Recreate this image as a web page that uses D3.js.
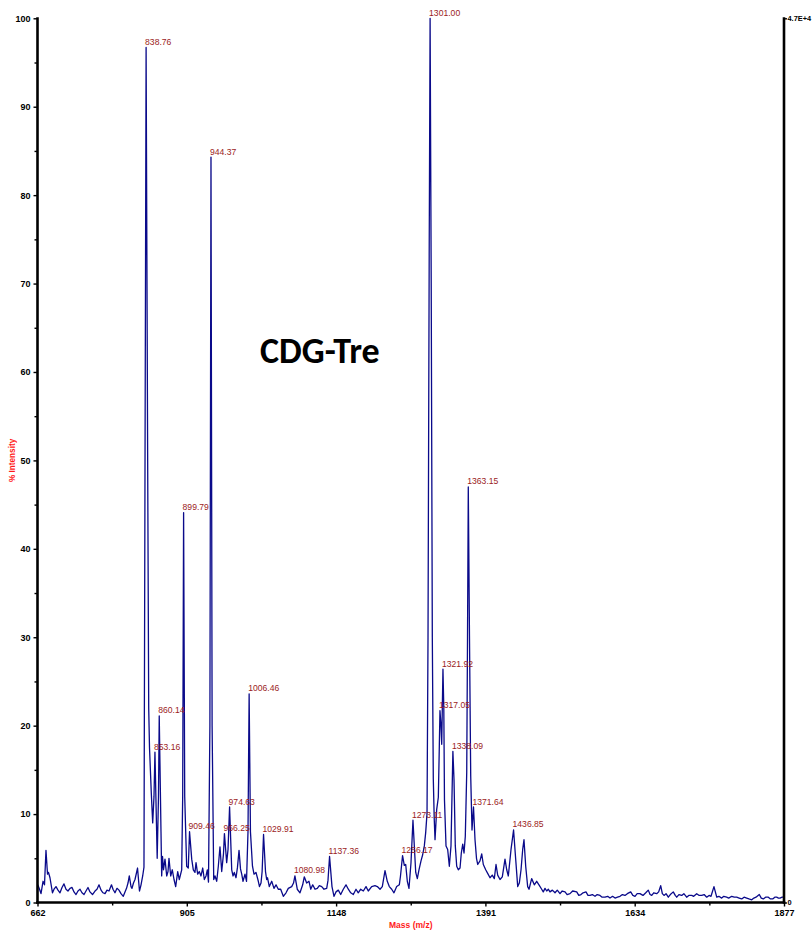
<!DOCTYPE html>
<html>
<head>
<meta charset="utf-8">
<script src="https://cdn.jsdelivr.net/npm/d3@7"></script>
<style>
  html, body { margin: 0; padding: 0; background: #ffffff; }
  svg { display: block; }
</style>
</head>
<body>
<svg id="chart" width="812" height="935"></svg>
<script>
// MALDI profile spectrum, [m/z, % intensity], split by mass region
const profileLow = [
  [662.5,2.0],[665.3,1.5],[667.7,1.0],[671.0,2.4],[673.4,2.0],[675.8,5.9],[678.3,3.2],[679.9,3.4],
  [682.3,2.8],[686.4,1.1],[688.9,1.5],[692.1,1.8],[695.4,1.4],[698.6,1.1],[701.9,1.7],[705.1,2.1],
  [708.4,1.5],[711.6,1.3],[714.9,1.6],[718.2,1.7],[721.4,1.2],[724.7,0.9],[727.9,1.3],[731.2,1.5],
  [734.4,1.1],[737.7,0.9],[740.9,1.3],[744.2,1.7],[747.4,1.2],[751.5,0.9],[755.6,1.3],[758.8,1.5],
  [762.1,2.0],[765.4,1.4],[768.6,1.1],[771.9,1.0],[775.1,1.4],[778.4,1.3],[782.4,2.0],[784.9,1.5],
  [788.1,1.1],[791.4,1.6],[794.6,1.4],[797.9,1.0],[801.6,0.7],[804.4,1.2],[806.9,1.6],[809.3,2.2],
  [811.4,3.0],[814.2,1.8],[815.8,1.6],[818.2,2.2],[820.7,2.6],[824.8,3.9],[828.0,1.3],[830.5,2.0],
  [833.2,3.0]
];
const profileCluster1 = [
  [835.3,4.0],[838.76,96.7],[841.3,50],[843.0,22],[844.3,17.5],[847.2,12.4],[849.5,9.0],[851.6,12],
  [853.16,17.0],[856.8,5.0],[858.9,12],[860.14,21.1],[863.0,8],[864.1,3.0],[865.5,5.2],[867.1,3.7],
  [869.5,4.9],[872.3,3.0],[874.4,3.5],[876.0,5.0],[878.8,3.0],[881.4,3.7],[884.2,2.6],[886.9,1.8],
  [890.2,3.5],[892.8,2.6],[896.7,3.7],[898.3,12],[899.79,44.1],[901.6,12],[904.8,4.1],[907.4,3.9],
  [909.46,8.0],[913.0,4.9],[915.6,3.7],[918.3,3.4],[920.0,4.5],[922.7,3.2],[925.3,3.5],[928.1,3.0],
  [930.9,3.9],[933.5,2.6],[936.3,3.0],[938.4,3.7],[940.3,2.3],[942.6,20],[944.37,84.3],[946.2,20],
  [948.8,2.6],[950.9,3.0],[953.7,2.4],[956.3,4.1],[959.0,6.3],[961.8,3.5],[964.7,5.5],[966.25,7.8],
  [969.9,4.5],[972.1,6.0],[974.63,10.8],[978.1,3.7],[980.2,3.0],[982.3,3.4],[985.1,2.8],[987.5,4.0],
  [990.0,5.9],[992.4,3.8],[994.4,3.2],[996.5,2.4],[999.7,3.2],[1002.2,2.4],[1004.6,8],[1006.46,23.6],
  [1008.6,8],[1011.9,4.1],[1014.4,3.2],[1017.6,3.4],[1021.4,2.4],[1023.3,1.8],[1025.8,2.2],[1027.6,3.5],
  [1029.91,7.7],[1033.1,3.5],[1035.0,2.6],[1036.3,2.8],[1039.3,1.8]
];
const profileMid = [
  [1043.2,2.4],[1046.9,1.6],[1050.2,2.0],[1053.9,1.5],[1057.8,1.5],[1062.1,0.7],[1066.5,1.1],[1070.2,1.6],
  [1075.7,1.8],[1078.7,2.2],[1080.98,3.0],[1084.8,1.5],[1089.2,1.1],[1093.6,2.0],[1096.2,2.9],[1100.1,2.2],
  [1103.9,2.4],[1106.7,1.5],[1109.9,2.0],[1113.7,1.5],[1117.4,1.6],[1120.7,1.9],[1124.6,1.8],[1128.3,1.5],
  [1132.7,1.6],[1134.8,2.5],[1137.36,5.2],[1141.3,1.8],[1144.6,0.7],[1147.8,1.2],[1151.6,1.4],[1155.5,0.9],
  [1159.7,1.5],[1164.1,2.0],[1167.9,1.5],[1171.8,1.1],[1176.0,0.9],[1180.4,1.5],[1184.1,1.1],[1188.0,1.5],
  [1192.3,1.3],[1196.7,1.8],[1200.4,1.3],[1205.9,1.8],[1211.3,1.9],[1215.1,1.8],[1219.5,1.5],[1223.2,1.8],
  [1227.6,3.6],[1231.3,2.4],[1234.6,1.8],[1238.5,1.5],[1242.2,1.1],[1246.6,1.8],[1250.9,2.0]
];
const profileCluster2 = [
  [1252.8,3.0],[1256.17,5.3],[1259.0,4.2],[1261.3,4.3],[1263.9,2.4],[1266.6,1.6],[1269.9,4.5],[1273.11,9.3],
  [1275.3,6.4],[1277.6,3.4],[1280.2,2.7],[1282.9,3.7],[1286.2,4.7],[1288.9,5.4],[1291.6,6.4],[1293.8,7.9],
  [1296.0,10.1],[1297.6,30],[1299.6,75],[1301.00,100],[1302.8,70],[1304.6,30],[1306.2,14],[1307.7,9.5],
  [1309.0,7.1],[1311.7,10.5],[1314.4,11.9],[1316.0,17.7],[1317.05,21.7],[1318.7,20],[1319.9,17.9],[1321.92,26.4],
  [1323.3,22],[1324.4,11.6],[1326.9,6.4],[1329.6,6.0],[1332.3,4.1],[1335.0,6.4],[1338.09,17.1],[1339.9,13.9],
  [1342.0,6.4],[1344.3,4.1],[1346.9,3.7],[1349.7,3.9],[1351.8,5.6],[1354.1,6.6],[1356.2,5.6],[1358.3,7.5],
  [1360.6,14.7],[1361.9,30],[1363.15,47.0],[1365.1,30],[1367.1,14.3],[1369.2,8.2],[1371.64,10.8],[1374.1,7.1],
  [1376.5,5.0],[1378.5,4.3],[1382.2,4.7],[1385.0,5.5],[1387.6,4.3],[1391.5,3.7],[1394.7,3.3],[1398.5,2.8],
  [1402.2,3.1],[1405.5,2.7],[1408.3,4.3],[1411.0,3.1],[1414.8,2.6],[1418.5,2.9],[1422.9,4.9],[1425.7,3.7],
  [1428.3,3.0],[1432.7,6.0],[1436.85,8.2],[1440.3,4.9],[1443.6,1.8],[1446.2,2.2],[1449.0,3.7],[1451.7,6.0],
  [1453.8,7.1],[1456.6,4.1],[1459.8,1.8]
];
const profileHigh = [
  [1462.0,1.5],[1466.3,2.7],[1470.6,2.0],[1474.5,2.4],[1478.2,2.0],[1482.6,1.5],[1485.2,1.2],[1488.0,1.6],
  [1490.8,1.3],[1493.5,1.5],[1496.1,1.2],[1500.0,1.4],[1504.3,1.1],[1508.0,1.4],[1512.4,1.0],[1516.0,1.3],
  [1520.6,1.2],[1524.0,0.9],[1528.7,1.0],[1533.0,1.3],[1539.6,1.2],[1543.0,0.8],[1546.6,0.9],[1550.0,1.1],
  [1554.7,1.2],[1558.0,0.8],[1561.2,0.8],[1565.0,0.9],[1569.4,0.7],[1573.0,0.9],[1577.5,0.8],[1581.0,0.6],
  [1585.7,0.6],[1590.0,0.7],[1593.8,0.5],[1598.0,0.7],[1602.0,0.5],[1606.0,0.6],[1610.1,0.7],[1614.0,0.9],
  [1618.2,0.8],[1622.0,1.0],[1627.5,1.2],[1631.0,0.8],[1634.5,0.7],[1638.0,1.0],[1642.6,1.0],[1647.5,0.8],
  [1652.0,1.1],[1656.1,1.4],[1659.0,0.9],[1661.7,0.8],[1665.0,1.1],[1669.8,1.0],[1673.0,1.2],[1676.3,1.9],
  [1679.0,1.0],[1681.7,0.8],[1685.0,1.0],[1688.7,0.6],[1692.0,0.9],[1696.8,1.2],[1700.0,0.8],[1702.4,0.6],
  [1706.0,0.9],[1710.5,0.8],[1714.0,1.0],[1718.6,0.6],[1722.0,0.8],[1726.8,0.8],[1730.0,0.7],[1734.9,1.0],
  [1739.0,0.8],[1743.1,0.8],[1747.0,0.9],[1751.2,0.6],[1755.0,0.8],[1758.2,0.7],[1763.0,1.8],[1767.5,0.6],
  [1771.0,0.7],[1775.6,0.5],[1779.0,0.7],[1783.7,0.6],[1787.0,0.5],[1791.9,0.7],[1796.0,0.6],[1800.0,0.6],
  [1804.0,0.5],[1808.2,0.4],[1812.0,0.6],[1816.3,0.5],[1820.0,0.4],[1824.5,0.3],[1828.0,0.5],[1831.4,0.6],
  [1836.8,0.9],[1840.0,0.5],[1843.3,0.4],[1847.0,0.6],[1851.5,0.6],[1855.0,0.4],[1858.6,0.4],[1862.0,0.6],
  [1865.1,0.6],[1868.0,0.5],[1870.5,0.5],[1874.0,0.6],[1877.0,0.6]
];

// annotated peak masses
const peakLabels = [838.76, 853.16, 860.14, 899.79, 909.46, 944.37, 966.25, 974.63, 1006.46, 1029.91,
  1080.98, 1137.36, 1256.17, 1273.11, 1301.00, 1317.05, 1321.92, 1338.09, 1363.15, 1371.64, 1436.85];

const massTicks = [662, 905, 1148, 1391, 1634, 1877];
const intensityTicks = [0, 10, 20, 30, 40, 50, 60, 70, 80, 90, 100];
const countTicks = [0, 47000];
const countTickLabels = ["0", "4.7E+4"];
const sampleName = "CDG-Tre";
const xTitle = "Mass (m/z)";
const yTitle = "% Intensity";

(function drawSpectrum() {
  const spectrum = [].concat(profileLow, profileCluster1, profileMid, profileCluster2, profileHigh);

  const svg = d3.select("#chart");
  const plotLeft = 37.5, plotRight = 784, plotTop = 18.3, plotBottom = 902.5;

  const x = d3.scaleLinear().domain([662, 1877]).range([plotLeft, plotRight]);
  const y = d3.scaleLinear().domain([0, 100]).range([plotBottom, plotTop]);
  const yCounts = d3.scaleLinear().domain([0, 47000]).range([plotBottom, plotTop]);

  const tickFont = "'Liberation Sans', Arial, sans-serif";

  // spectrum trace
  svg.append("path")
    .datum(spectrum)
    .attr("fill", "none")
    .attr("stroke", "#0a0a8a")
    .attr("stroke-width", 1.3)
    .attr("stroke-linejoin", "round")
    .attr("d", d3.line().x(d => x(d[0])).y(d => y(d[1])));

  // peak annotations
  const peakLookup = new Map(spectrum.map(d => [d[0], d[1]]));
  svg.append("g")
    .selectAll("text")
    .data(peakLabels)
    .join("text")
    .attr("x", d => x(d) - 1)
    .attr("y", d => y(peakLookup.get(d)) - 2.5)
    .attr("font-family", tickFont)
    .attr("font-size", 8.6)
    .attr("fill", "#9b1c1c")
    .text(d => d.toFixed(2));

  // minor tick values at the half steps
  const massMinor = d3.range(0, massTicks.length - 1).map(i => (massTicks[i] + massTicks[i + 1]) / 2);
  const intensityMinor = d3.range(5, 100, 10);

  function styleAxis(g) {
    g.selectAll(".tick line").attr("stroke", "#000").attr("stroke-width", 1.4);
    g.selectAll("text")
      .attr("font-family", tickFont)
      .attr("font-size", 9)
      .attr("font-weight", "bold")
      .attr("fill", "#000");
    g.select(".domain").remove();
  }

  // bottom axis
  svg.append("g").attr("transform", `translate(0,${plotBottom})`)
    .call(d3.axisBottom(x).tickValues(massTicks).tickFormat(d3.format("d")).tickSize(4).tickPadding(3).tickSizeOuter(0))
    .call(styleAxis);
  svg.append("g").attr("transform", `translate(0,${plotBottom})`)
    .call(d3.axisBottom(x).tickValues(massMinor).tickFormat("").tickSize(3).tickSizeOuter(0))
    .call(styleAxis);

  // left axis
  svg.append("g").attr("transform", `translate(${plotLeft},0)`)
    .call(d3.axisLeft(y).tickValues(intensityTicks).tickFormat(d3.format("d")).tickSize(4).tickPadding(3).tickSizeOuter(0))
    .call(styleAxis);
  svg.append("g").attr("transform", `translate(${plotLeft},0)`)
    .call(d3.axisLeft(y).tickValues(intensityMinor).tickFormat("").tickSize(3).tickSizeOuter(0))
    .call(styleAxis);

  // right axis: absolute counts
  svg.append("g").attr("transform", `translate(${plotRight},0)`)
    .call(d3.axisRight(yCounts).tickValues(countTicks).tickFormat((d, i) => countTickLabels[i]).tickSize(3).tickPadding(0.5).tickSizeOuter(0))
    .call(styleAxis)
    .selectAll("text").attr("font-size", 7.4);

  // frame lines
  const frame = svg.append("g").attr("stroke", "#000").attr("stroke-width", 2.6).attr("fill", "none");
  frame.append("line").attr("x1", plotLeft).attr("x2", plotLeft).attr("y1", plotTop - 1).attr("y2", plotBottom + 1.3);
  frame.append("line").attr("x1", plotLeft - 1.3).attr("x2", plotRight + 1.3).attr("y1", plotBottom).attr("y2", plotBottom);
  frame.append("line").attr("x1", plotRight).attr("x2", plotRight).attr("y1", plotTop - 1).attr("y2", plotBottom + 1.3);

  // axis titles
  svg.append("text")
    .attr("x", (plotLeft + plotRight) / 2).attr("y", 928)
    .attr("text-anchor", "middle")
    .attr("font-family", tickFont).attr("font-size", 8.5).attr("font-weight", "bold")
    .attr("fill", "#ff1a1a")
    .text(xTitle);
  svg.append("text")
    .attr("transform", `translate(15,${(plotTop + plotBottom) / 2}) rotate(-90)`)
    .attr("text-anchor", "middle")
    .attr("font-family", tickFont).attr("font-size", 8.2).attr("font-weight", "bold")
    .attr("fill", "#ff1a1a")
    .text(yTitle);

  // sample name
  svg.append("text")
    .attr("x", 260).attr("y", 363)
    .attr("font-family", "Carlito, Calibri, 'Open Sans', 'Liberation Sans', sans-serif")
    .attr("font-size", 36).attr("font-weight", "bold")
    .attr("fill", "#000")
    .text(sampleName);
})();
</script>
</body>
</html>
